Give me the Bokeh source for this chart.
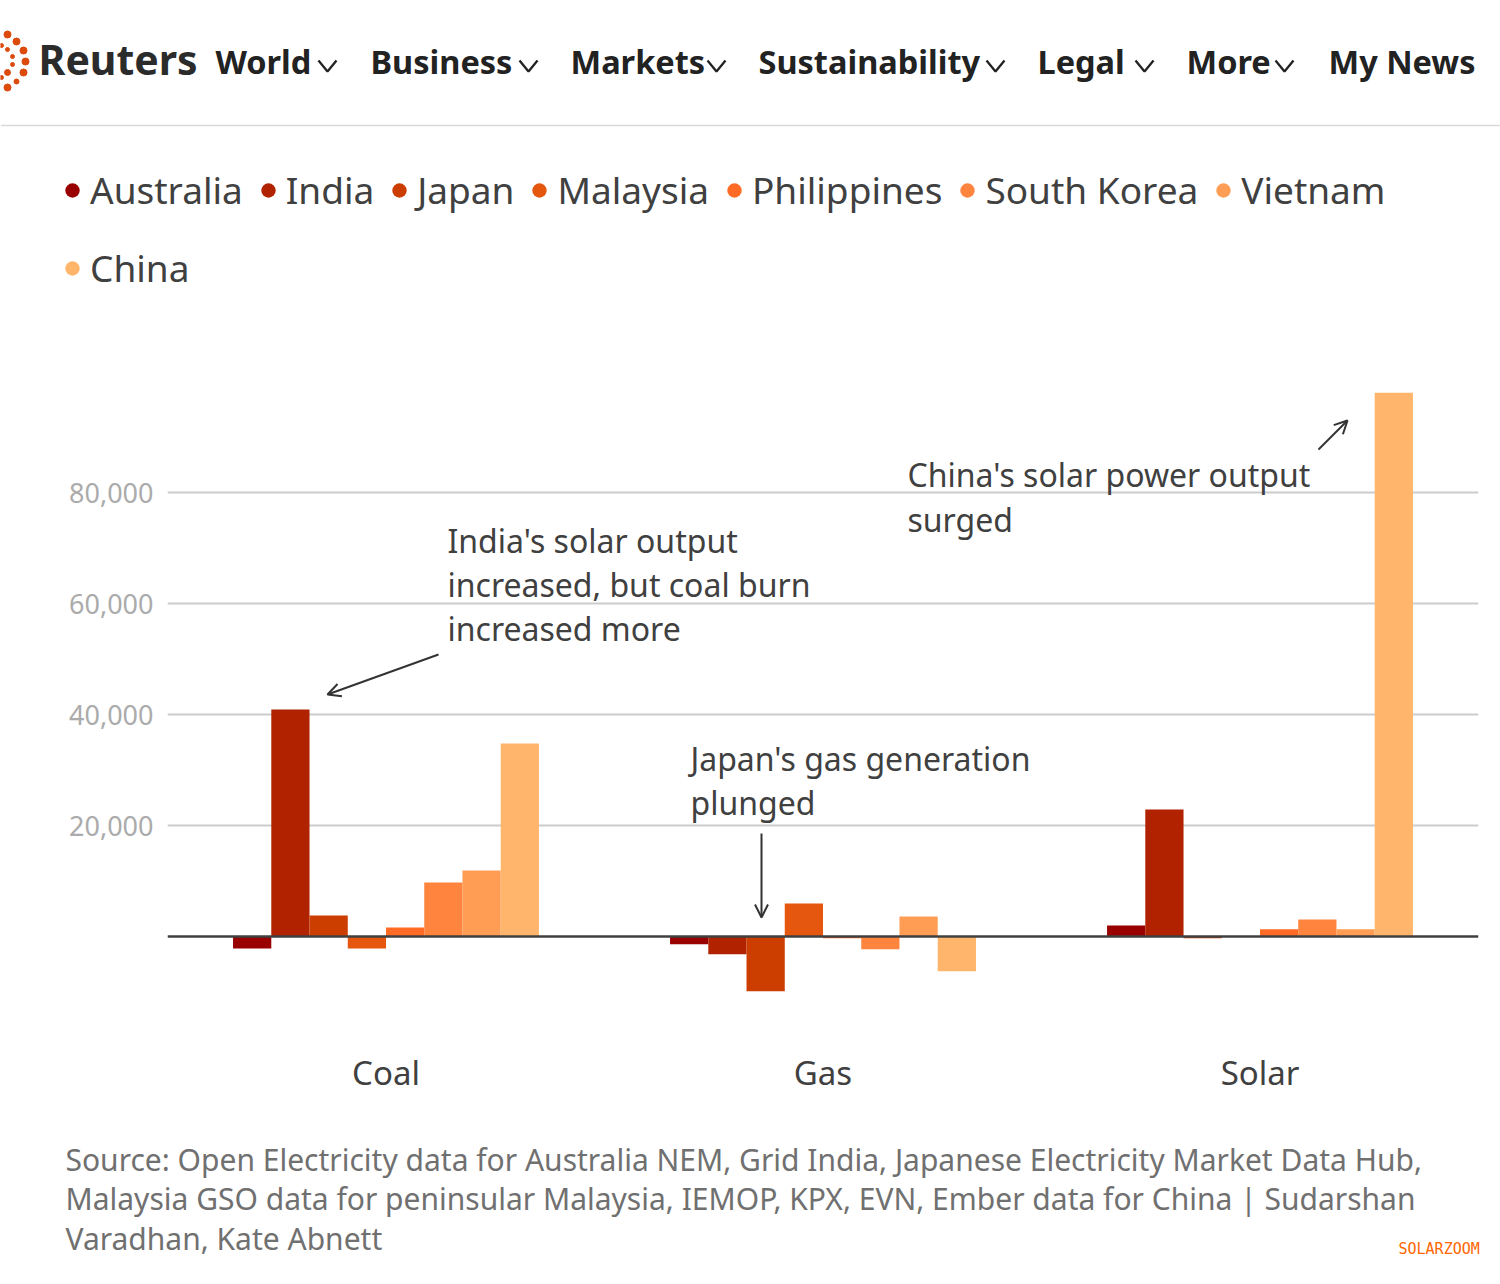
from bokeh.plotting import figure
from bokeh.models import (ColumnDataSource, FactorRange, Range1d, FixedTicker,
                          NumeralTickFormatter, Span, Label, Arrow, OpenHead,
                          Legend, LegendItem)
from bokeh.transform import dodge
from bokeh.layouts import column, row
from bokeh.core.properties import value
from bokeh.embed import file_html
from bokeh.resources import INLINE

# ---------------- data ----------------
fuels = ["Coal", "Gas", "Solar"]
countries = ["Australia", "India", "Japan", "Malaysia", "Philippines",
             "South Korea", "Vietnam", "China"]
australia = [-2160, -1400, 1980]
india = [40900, -3200, 22900]
japan = [3780, -9850, -300]
malaysia = [-2160, 5950, 0]
philippines = [1620, -300, 1300]
south_korea = [9730, -2300, 3060]
vietnam = [11900, 3600, 1300]
china = [34780, -6250, 98000]
y_ticks = [20000, 40000, 60000, 80000]
colors = ["#990000", "#b02200", "#cc3d00", "#e5560f", "#ff6b25",
          "#ff853f", "#ff9d54", "#ffb56b"]

nav_items = ["World", "Business", "Markets", "Sustainability", "Legal", "More", "My News"]
source_lines = [
    "Source: Open Electricity data for Australia NEM, Grid India, Japanese Electricity Market Data Hub,",
    "Malaysia GSO data for peninsular Malaysia, IEMOP, KPX, EVN, Ember data for China |  Sudarshan",
    "Varadhan, Kate Abnett",
]

FONT = "Noto Sans"
W = 1500
H_HDR, H_MAIN, H_FTR = 300, 820, 164
# text baselines are rendered ~0.4em lower than requested; compensate
BL = 0.4

src = ColumnDataSource(dict(fuel=fuels, Australia=australia, India=india, Japan=japan,
                            Malaysia=malaysia, Philippines=philippines,
                            **{"South Korea": south_korea}, Vietnam=vietnam, China=china))

# ---------------- header + legend ----------------
hdr = figure(width=W, height=H_HDR, x_range=Range1d(0, W), y_range=Range1d(H_HDR, 0),
             toolbar_location=None, output_backend="svg", x_axis_location=None,
             y_axis_location=None, min_border=0, outline_line_color=None)
hdr.grid.visible = False
dots_x = [7, 16, 23, 25, 23, 16, 7, 1, 7, 12, 12, 7, 1]
dots_y = [34, 41, 50, 61, 72, 81, 87, 45, 49, 56, 64, 72, 77]
dots_s = [7, 7, 7, 7, 7, 5, 7, 4, 4, 4, 4, 6, 4]
hdr.scatter(x=dots_x, y=dots_y, size=dots_s, color="#dc4a0c")
hdr.text(x=[38], y=[75 - BL * 41], text=["Reuters"], text_font=value(FONT),
         text_font_style="bold", text_font_size="41px", text_color="#2b2b2b",
         text_baseline="alphabetic")
nav_x = [215, 370, 570, 758, 1037, 1186, 1328]
hdr.text(x=nav_x, y=[73.5 - BL * 32.5] * len(nav_x), text=nav_items, text_font=value(FONT),
         text_font_style="bold", text_font_size="32.5px", text_color="#222222",
         text_baseline="alphabetic")
chev_x = [318, 519, 707, 986, 1135, 1275]
hdr.multi_line(xs=[[c, c + 9, c + 18] for c in chev_x], ys=[[60, 71, 60]] * len(chev_x),
               line_color="#222222", line_width=2.3)
hdr.segment(x0=[0], y0=[125], x1=[W], y1=[125], line_color="#d9d9d9", line_width=1.5)

legend_rs = [hdr.scatter(x=c, y=c, source=src, marker="circle", fill_color=col,
                         line_color=None, visible=False)
             for c, col in zip(countries, colors)]
leg_kw = dict(orientation="horizontal", glyph_width=36, glyph_height=46, label_height=46,
              label_standoff=0, spacing=7, padding=0, margin=0,
              border_line_color=None, background_fill_alpha=0,
              label_text_font=FONT, label_text_font_size="37px",
              label_text_color="#404040")
leg1 = Legend(items=[LegendItem(label=c, renderers=[r]) for c, r in zip(countries[:7], legend_rs[:7])],
              location=(54, H_HDR - 215), **leg_kw)
leg2 = Legend(items=[LegendItem(label=countries[7], renderers=[legend_rs[7]])],
              location=(54, H_HDR - 293), **leg_kw)
hdr.add_layout(leg1)
hdr.add_layout(leg2)

# ---------------- main chart ----------------
FRAME_L, PX_CAT, BASE, UPP = 167.0, 437.0, 936.0, 180.2
FRAME_T, FRAME_B = float(H_HDR), 1040.0


def dx(sx):
    return (sx - FRAME_L) / PX_CAT


def dy(sy):
    return (BASE - sy) * UPP


p = figure(width=W, height=H_MAIN, x_range=FactorRange(factors=fuels, range_padding=0),
           y_range=Range1d(dy(FRAME_B), dy(FRAME_T)), toolbar_location=None,
           output_backend="svg", min_border_left=167, min_border_right=22,
           min_border_top=0, min_border_bottom=80, outline_line_color=None)

bar_w = 0.7 / len(countries)
for i, (c, col) in enumerate(zip(countries, colors)):
    off = -0.35 + bar_w * (i + 0.5)
    p.vbar(x=dodge("fuel", off, range=p.x_range), top=c, bottom=0, width=bar_w,
           source=src, fill_color=col, line_color=None)

p.add_layout(Span(location=0, dimension="width", line_color="#404040", line_width=2.5))

p.yaxis.ticker = FixedTicker(ticks=y_ticks)
p.yaxis.formatter = NumeralTickFormatter(format="0,0")
p.yaxis.major_label_text_font = FONT
p.yaxis.major_label_text_font_size = "27px"
p.yaxis.major_label_text_color = "#ababab"
p.yaxis.axis_line_color = None
p.yaxis.major_tick_line_color = None
p.yaxis.minor_tick_line_color = None
p.yaxis.major_tick_out = 0
p.yaxis.major_tick_in = 0
p.yaxis.major_label_standoff = 14
p.ygrid.grid_line_color = "#cccccc"
p.ygrid.grid_line_width = 2
p.xgrid.grid_line_color = None
p.xaxis.axis_line_color = None
p.xaxis.major_tick_line_color = None
p.xaxis.major_tick_out = 0
p.xaxis.major_tick_in = 0
p.xaxis.major_label_text_font = FONT
p.xaxis.major_label_text_font_size = "33px"
p.xaxis.major_label_text_color = "#404040"
p.xaxis.major_label_standoff = 9

ANN_FS = 32
ann_kw = dict(text_font=FONT, text_font_size=f"{ANN_FS}px", text_color="#404040",
              text_baseline="alphabetic")
for txt, sx, sy in [("India's solar output", 447, 553),
                    ("increased, but coal burn", 447, 597),
                    ("increased more", 447, 641),
                    ("Japan's gas generation", 690, 771),
                    ("plunged", 690, 815),
                    ("China's solar power output", 907, 487),
                    ("surged", 907, 532)]:
    p.add_layout(Label(x=dx(sx), y=dy(sy - BL * ANN_FS), text=txt, **ann_kw))

for (x0, y0, x1, y1) in [(438, 654, 327, 694), (761, 833, 761, 917), (1318, 449, 1347, 420)]:
    p.add_layout(Arrow(end=OpenHead(size=13, line_width=2, line_color="#333333"),
                       x_start=dx(x0), y_start=dy(y0), x_end=dx(x1), y_end=dy(y1),
                       line_width=2, line_color="#333333"))

# ---------------- footer ----------------
ftr = figure(width=W, height=H_FTR, x_range=Range1d(0, W), y_range=Range1d(1120 + H_FTR, 1120),
             toolbar_location=None, output_backend="svg", x_axis_location=None,
             y_axis_location=None, min_border=0, outline_line_color=None)
ftr.grid.visible = False
SRC_FS = 30
ftr.text(x=[65] * 3, y=[b - BL * SRC_FS for b in (1171, 1210, 1249.5)], text=source_lines,
         text_font=value(FONT), text_font_size=f"{SRC_FS}px", text_color="#707070",
         text_baseline="alphabetic")
ftr.text(x=[1398], y=[1254 - BL * 15], text=["SOLARZOOM"], text_font=value("DejaVu Sans Mono"),
         text_font_size="15px", text_color="#ff6600", text_baseline="alphabetic")

layout = column(row(hdr), row(p), row(ftr), spacing=0)
open("out.html", "w").write(file_html(layout, INLINE))
